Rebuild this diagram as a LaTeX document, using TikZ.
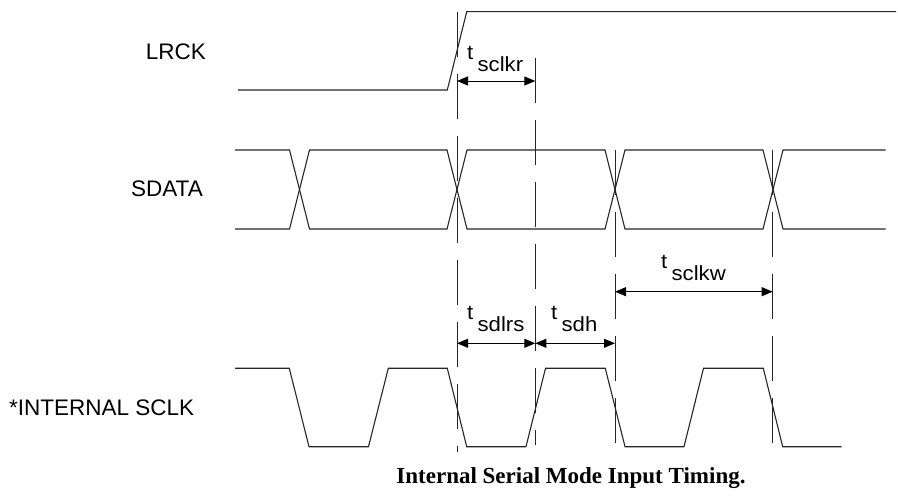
\documentclass[tikz,border=0pt]{standalone}
\usepackage{fontspec}
\setmainfont{Liberation Sans}
\newfontfamily\titlefont{Liberation Serif}
\usetikzlibrary{arrows.meta}
\begin{document}
\begin{tikzpicture}[x=1pt,y=-1pt,
  sig/.style={line width=1.1pt, black!85, line join=miter},
  guide/.style={line width=0.9pt, black!85, dash pattern=on 45pt off 17pt},
  dim/.style={line width=0.9pt, {Triangle[length=11pt,width=9pt]}-{Triangle[length=11pt,width=9pt]}},
  signame/.style={inner sep=0pt, font=\fontsize{22.5}{26}\selectfont},
  tlabel/.style={inner sep=0pt, anchor=base west, font=\fontsize{20.5}{24}\selectfont},
]
\useasboundingbox (0,0) rectangle (898,497);

% signal names
\node[signame, anchor=base east] (lrck) at (206,59.3) {LRCK};
\node[signame, anchor=base east] (sdata) at (203,196.7) {SDATA};
\node[signame, anchor=base west] (sclk) at (9,415) {*INTERNAL SCLK};

% LRCK
\draw[sig] (238,90) -- (447.3,90) -- (466.7,11.7) -- (896,11.7);

% SDATA
\draw[sig] (235,150) -- (289.5,150) -- (309.5,229) -- (447,229) -- (467,150)
  -- (605,150) -- (625,229) -- (763,229) -- (783,150) -- (885.7,150);
\draw[sig] (235,229) -- (289.5,229) -- (309.5,150) -- (447,150) -- (467,229)
  -- (605,229) -- (625,150) -- (763,150) -- (783,229) -- (885.7,229);

% internal SCLK
\draw[sig] (235,368.3) -- (289.3,368.3) -- (309,446.7) -- (368.5,446.7) -- (388.3,368.3)
  -- (447.3,368.3) -- (466.7,446.7) -- (526,446.7) -- (545.5,368.3)
  -- (605.3,368.3) -- (625,446.7) -- (684,446.7) -- (703.5,368.3)
  -- (763.3,368.3) -- (782.7,446.7) -- (841.7,446.7);

% guide lines
\coordinate (g1t) at (457,12);   \coordinate (g1b) at (457,452);
\coordinate (g2t) at (535.3,58); \coordinate (g2b) at (535.3,445);
\coordinate (g3t) at (615,150);  \coordinate (g3b) at (615,443);
\coordinate (g4t) at (772.7,150);\coordinate (g4b) at (772.7,443);
\draw[guide] (g1t) -- (g1b);
\draw[guide] (g2t) -- (g2b);
\draw[guide] (g3t) -- (g3b);
\draw[guide] (g4t) -- (g4b);

% dimension arrows
\coordinate (a1l) at (457,81);     \coordinate (a1r) at (535.3,81);
\coordinate (a2l) at (457,343.3);  \coordinate (a2r) at (535.3,343.3);
\coordinate (a3l) at (535.3,343.3);\coordinate (a3r) at (615,343.3);
\coordinate (a4l) at (615,291.7);  \coordinate (a4r) at (772.7,291.7);
\draw[dim] (a1l) -- (a1r);
\draw[dim] (a2l) -- (a2r);
\draw[dim] (a3l) -- (a3r);
\draw[dim] (a4l) -- (a4r);

% timing labels
\node[tlabel] (tsclkr) at (467,60) {\scalebox{1.08}[1]{t\hspace{4pt}\raisebox{-12pt}{sclkr}}};
\node[tlabel] (tsdlrs) at (467,320) {\scalebox{1.08}[1]{t\hspace{4pt}\raisebox{-12pt}{sdlrs}}};
\node[tlabel] (tsdh) at (551,320) {\scalebox{1.08}[1]{t\hspace{4pt}\raisebox{-12pt}{sdh}}};
\node[tlabel] (tsclkw) at (661,268.7) {\scalebox{1.08}[1]{t\hspace{4pt}\raisebox{-12pt}{sclkw}}};

% caption
\node[inner sep=0pt, anchor=base] (title) at (571,483)
  {\titlefont\bfseries\fontsize{23}{26}\selectfont Internal Serial Mode Input Timing.};
\end{tikzpicture}
\end{document}
